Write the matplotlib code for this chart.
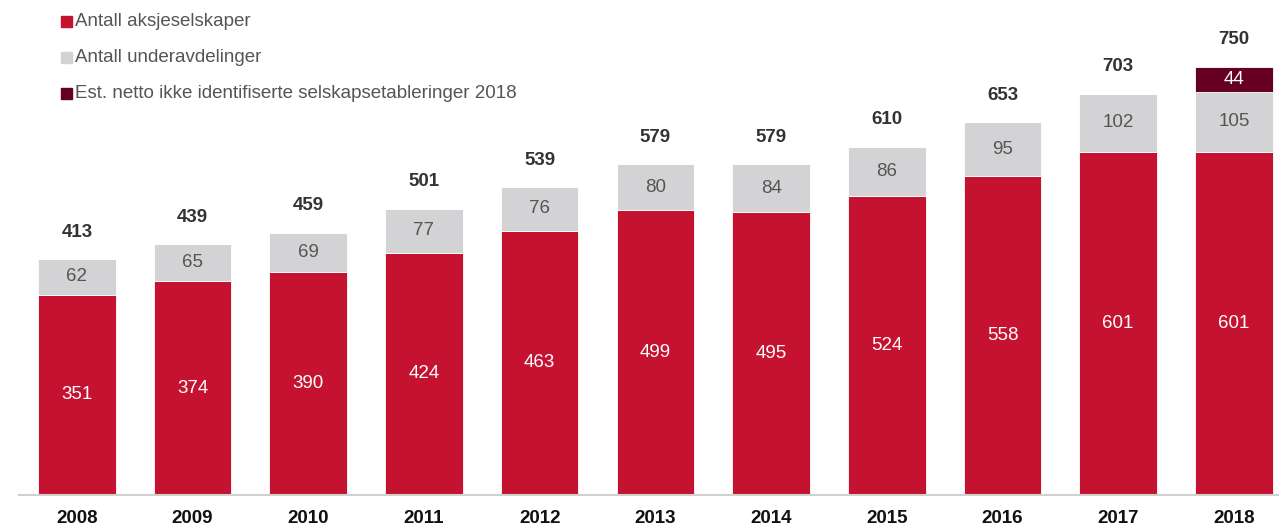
import numpy as np
import matplotlib
matplotlib.use("Agg")
import matplotlib.pyplot as plt
from matplotlib.patches import Rectangle

plt.rcParams['font.family'] = ['Liberation Sans', 'DejaVu Sans']

# Data
years = ['2008', '2009', '2010', '2011', '2012', '2013', '2014', '2015', '2016', '2017', '2018']
aksjeselskaper = [351, 374, 390, 424, 463, 499, 495, 524, 558, 601, 601]
underavdelinger = [62, 65, 69, 77, 76, 80, 84, 86, 95, 102, 105]
ikke_identifiserte = [0, 0, 0, 0, 0, 0, 0, 0, 0, 0, 44]
totals = [413, 439, 459, 501, 539, 579, 579, 610, 653, 703, 750]

red = '#C41230'
grey = '#D3D3D5'
maroon = '#650020'

fig = plt.figure(figsize=(12.79, 5.27), dpi=100)
ax = fig.add_axes([19 / 1279, 32 / 527, 1260 / 1279, 495 / 527])

x = np.arange(len(years))
w = 0.67
ax.bar(x, aksjeselskaper, w, color=red, edgecolor='white', linewidth=0.6)
ax.bar(x, underavdelinger, w, bottom=aksjeselskaper, color=grey, edgecolor='white', linewidth=0.6)
bottom3 = np.array(aksjeselskaper) + np.array(underavdelinger)
ax.bar(x, ikke_identifiserte, w, bottom=bottom3, color=maroon, edgecolor='white', linewidth=0.6)

# segment labels
for i in range(len(years)):
    ax.text(x[i], aksjeselskaper[i] / 2, str(aksjeselskaper[i]), ha='center', va='center',
            color='white', fontsize=13.5)
    ax.text(x[i], aksjeselskaper[i] + underavdelinger[i] / 2, str(underavdelinger[i]),
            ha='center', va='center', color='#555555', fontsize=13.5)
    if ikke_identifiserte[i] > 0:
        ax.text(x[i], bottom3[i] + ikke_identifiserte[i] / 2, str(ikke_identifiserte[i]),
                ha='center', va='center', color='white', fontsize=13.5)
    ax.annotate(str(totals[i]), (x[i], totals[i]), xytext=(0, 19.5), textcoords='offset points',
                ha='center', va='center', fontsize=13.5, fontweight='bold', color='#333333')

ax.set_xlim(-0.5, 10.39)
ax.set_ylim(0, 867)
ax.set_xticks(x)
ax.set_xticklabels(years, fontsize=13.5, fontweight='bold', color='#111111')
ax.tick_params(axis='x', length=0, pad=11)
ax.set_yticks([])
for s in ['top', 'right', 'left']:
    ax.spines[s].set_visible(False)
ax.spines['bottom'].set_color('#D0D0D0')
ax.spines['bottom'].set_linewidth(1.5)

# legend
legend_items = ['Antall aksjeselskaper', 'Antall underavdelinger',
                'Est. netto ikke identifiserte selskapsetableringer 2018']
legend_colors = [red, grey, maroon]
for k, (lab, col) in enumerate(zip(legend_items, legend_colors)):
    yc = 21 + 36 * k
    fig.patches.append(Rectangle((61 / 1279, 1 - (yc + 5.5) / 527), 11 / 1279, 11 / 527,
                                 transform=fig.transFigure, color=col, figure=fig))
    fig.text(75 / 1279, 1 - yc / 527, lab, color='#555555', fontsize=13.5, va='center', ha='left')

fig.savefig('out.png', dpi=100)
